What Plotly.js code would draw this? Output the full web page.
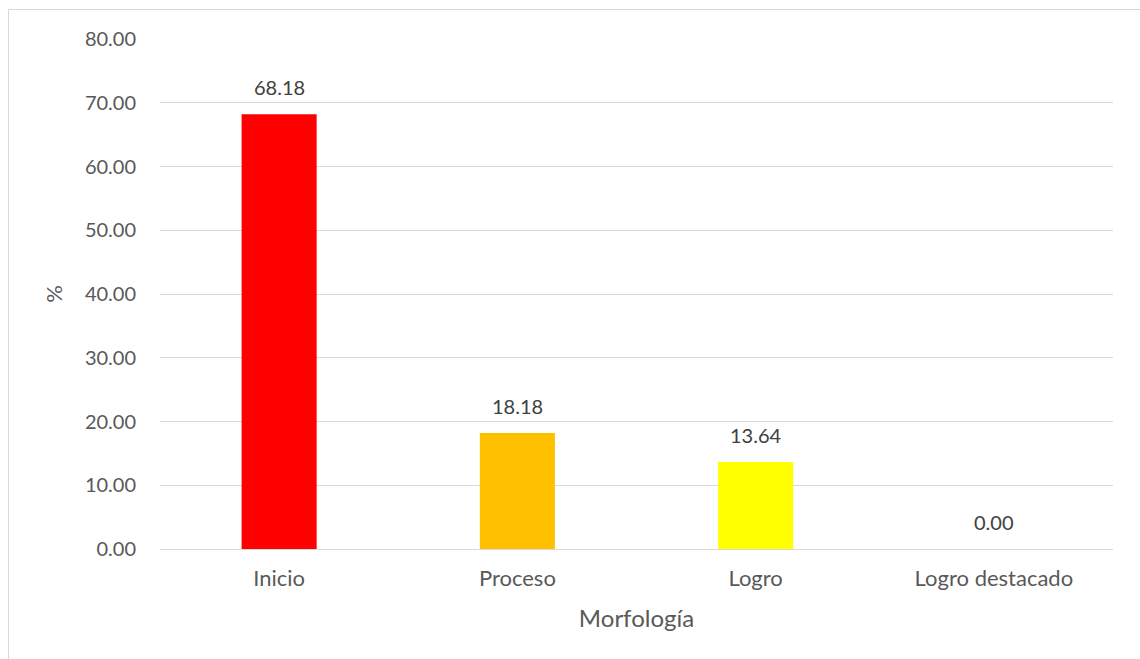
<!DOCTYPE html>
<html>
<head>
<meta charset="utf-8">
<script src="https://cdn.plot.ly/plotly-3.0.1.min.js"></script>
<style>
html,body{margin:0;padding:0;background:#fff;}
#wrap{position:relative;width:1140px;height:659px;overflow:hidden;}
#frame{position:absolute;left:8px;top:9px;width:1200px;height:700px;border:1px solid #d9d9d9;box-sizing:border-box;pointer-events:none;}
#chart{position:absolute;left:0;top:0;width:1140px;height:659px;}
</style>
</head>
<body>
<div id="wrap">
<div id="chart"></div>
<div id="frame"></div>
</div>
<script>
const categories = ["Inicio", "Proceso", "Logro", "Logro destacado"];
const values = [68.18, 18.18, 13.64, 0.00];
const barColors = ["#FF0000", "#FFC000", "#FFFF00", "#A5A5A5"];
const yTickVals = [0, 10, 20, 30, 40, 50, 60, 70, 80];

const font = "Lato, 'Open Sans', sans-serif";

const trace = {
  type: "bar",
  x: categories,
  y: values,
  marker: {color: barColors},
  width: 0.315,
  hoverinfo: "none"
};

const annotations = categories.map((c, i) => ({
  x: c, y: values[i], xref: "x", yref: "y",
  text: values[i].toFixed(2),
  showarrow: false, yanchor: "bottom", yshift: 13,
  font: {family: font, size: 20, color: "#404040"}
}));

const layout = {
  width: 1140, height: 659,
  margin: {l: 160, r: 27, t: 39, b: 110},
  paper_bgcolor: "rgba(0,0,0,0)",
  plot_bgcolor: "rgba(0,0,0,0)",
  showlegend: false,
  font: {family: font, color: "#595959", size: 20},
  xaxis: {
    showgrid: false, showline: false, zeroline: false,
    ticks: "", ticklabelstandoff: 14,
    tickfont: {family: font, size: 22, color: "#595959"},
    title: {text: "Morfología", font: {family: font, size: 24, color: "#595959"}, standoff: 20}
  },
  yaxis: {
    range: [0, 80], tickvals: yTickVals, tickformat: ".2f",
    showgrid: true, gridcolor: "#d9d9d9", gridwidth: 1,
    zeroline: true, zerolinecolor: "#d9d9d9", zerolinewidth: 1,
    showline: false, ticks: "", ticklabelstandoff: 23,
    tickfont: {family: font, size: 20, color: "#595959"},
    title: {text: "%", font: {family: font, size: 22, color: "#595959"}, standoff: 16}
  },
  annotations: annotations
};

Plotly.newPlot("chart", [trace], layout, {staticPlot: true, displayModeBar: false});
</script>
</body>
</html>
